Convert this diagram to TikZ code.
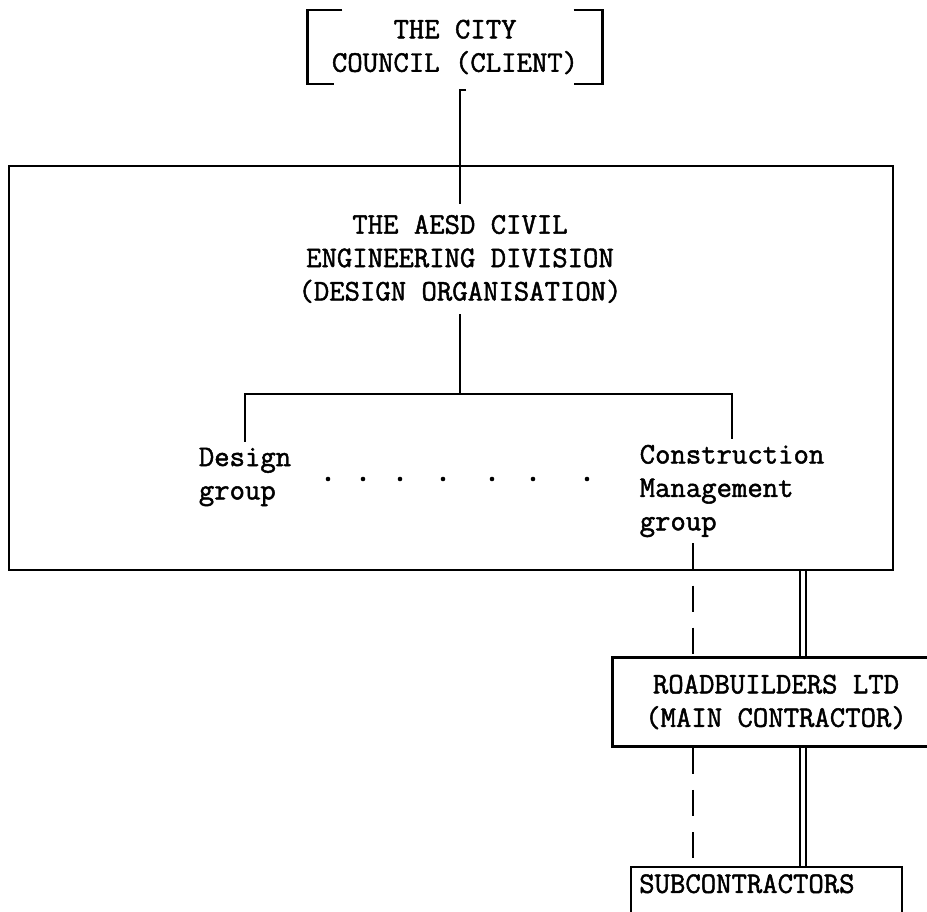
\documentclass[tikz,border=0pt]{standalone}
\usepackage{fontspec}
\newfontfamily\typewriter{Latin Modern Mono}[FakeBold=1.6,AutoFakeBold=1.6]
\usepackage{tikz}
\usetikzlibrary{positioning,calc}

\begin{document}
\begin{tikzpicture}[x=0.02cm,y=-0.02cm,line width=1.4pt,
	every node/.style={font=\fontsize{17}{19}\typewriter\bfseries,inner sep=0pt},
	dashedlink/.style={dash pattern=on 15pt off 9pt},
	contract/.style={double,double distance=2.6pt,line width=1.1pt}]
	\useasboundingbox (0,0) rectangle (927,912);
	% boxes and labels
	\node[draw,minimum width=17.68cm,minimum height=8.08cm] (org) at (451,368) {};
	\node[minimum width=5.86cm,minimum height=1.44cm,align=center] (client) at (455,47) {THE CITY\\COUNCIL (CLIENT)};
	\node[align=center,inner ysep=0.2cm] (aesd) at (460,259) {THE AESD CIVIL\\ENGINEERING DIVISION\\(DESIGN ORGANISATION)};
	\node[align=left,inner ysep=0.1cm] (design) at (245,477) {Design\\group};
	\node[align=left,inner ysep=0.1cm] (cmg) at (732,491) {Construction\\Management\\group};
	\node[draw,minimum width=6.54cm,minimum height=1.78cm,align=center] (road) at (776,702) {ROADBUILDERS LTD\\(MAIN CONTRACTOR)};
	\node[draw,anchor=north west,inner xsep=0.16cm,inner ysep=0.14cm,text width=5.1cm,text depth=0.9cm] (subs) at (630,866) {SUBCONTRACTORS};
	% brackets round the client
	\draw (client.north west) ++(35,0) -| (client.south west) -- ++(27,0);
	\draw (client.north east) ++(-29,0) -| (client.south east) -- ++(-29,0);
	% links
	\coordinate (fork) at (460,394);
	\coordinate (dashx) at (693,0);
	\coordinate (dblx) at (803,0);
	\draw ($(client.south -| aesd.north)+(6,6)$) -- ++(-6,0) -- (aesd.north);
	\draw (aesd.south) -- (fork);
	\draw (design.north) |- (fork) -| (cmg.north);
	\draw[dashedlink] (dashx |- cmg.south) -- (dashx |- road.north)
		(dashx |- road.south) -- (dashx |- subs.north);
	\draw[contract] (dblx |- org.south) -- (dblx |- road.north)
		(dblx |- road.south) -- (dblx |- subs.north);
	\foreach \x in {328,363,400,443,492,533,587}
		\fill (\x,479) circle (1.3pt);
\end{tikzpicture}
\end{document}
